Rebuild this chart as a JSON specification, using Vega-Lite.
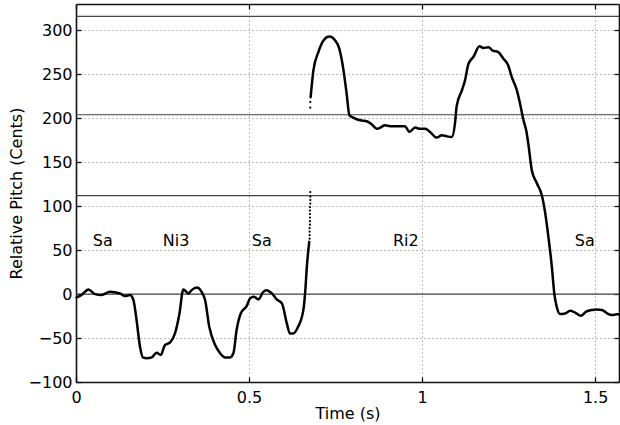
{
  "$schema": "https://vega.github.io/schema/vega-lite/v6.json",
  "width": 543,
  "height": 378,
  "autosize": {"type": "none"},
  "padding": {"left": 76, "top": 4, "right": 1, "bottom": 43},
  "background": "white",
  "config": {
    "view": {"stroke": null},
    "axis": {
      "domain": true,
      "ticks": true,
      "labelFlush": false,
      "labelFont": "DejaVu Sans",
      "titleFont": "DejaVu Sans",
      "labelFontSize": 16,
      "titleFontSize": 16,
      "titleFontWeight": "normal",
      "labelColor": "#000",
      "titleColor": "#000",
      "domainColor": "#111111",
      "domainWidth": 1.6,
      "domainOpacity": 1,
      "tickColor": "#111111",
      "tickWidth": 1.3,
      "tickOpacity": 1,
      "tickSize": -5,
      "gridColor": "#777",
      "gridDash": [1, 3],
      "gridOpacity": 1,
      "gridWidth": 1,
      "zindex": 1
    }
  },
  "datasets": {
    "pitch": [
      {"t": 0.002, "c": -3.8, "s": 1},
      {"t": 0.016, "c": -1, "s": 1},
      {"t": 0.036, "c": 5.3, "s": 1},
      {"t": 0.055, "c": 0, "s": 1},
      {"t": 0.074, "c": -1, "s": 1},
      {"t": 0.098, "c": 2.7, "s": 1},
      {"t": 0.127, "c": 0.7, "s": 1},
      {"t": 0.142, "c": -2.3, "s": 1},
      {"t": 0.156, "c": -1, "s": 1},
      {"t": 0.166, "c": -6.8, "s": 1},
      {"t": 0.175, "c": -29.5, "s": 1},
      {"t": 0.185, "c": -60, "s": 1},
      {"t": 0.193, "c": -72, "s": 1},
      {"t": 0.204, "c": -73, "s": 1},
      {"t": 0.219, "c": -72, "s": 1},
      {"t": 0.233, "c": -66.6, "s": 1},
      {"t": 0.245, "c": -69.3, "s": 1},
      {"t": 0.257, "c": -58, "s": 1},
      {"t": 0.272, "c": -55, "s": 1},
      {"t": 0.286, "c": -44.7, "s": 1},
      {"t": 0.299, "c": -22, "s": 1},
      {"t": 0.31, "c": 5.3, "s": 1},
      {"t": 0.325, "c": 0.8, "s": 1},
      {"t": 0.334, "c": 4.5, "s": 1},
      {"t": 0.349, "c": 7.6, "s": 1},
      {"t": 0.363, "c": 2.6, "s": 1},
      {"t": 0.373, "c": -6.8, "s": 1},
      {"t": 0.385, "c": -37, "s": 1},
      {"t": 0.402, "c": -58, "s": 1},
      {"t": 0.416, "c": -67, "s": 1},
      {"t": 0.431, "c": -72, "s": 1},
      {"t": 0.445, "c": -72, "s": 1},
      {"t": 0.455, "c": -67, "s": 1},
      {"t": 0.464, "c": -41, "s": 1},
      {"t": 0.476, "c": -22, "s": 1},
      {"t": 0.493, "c": -13.6, "s": 1},
      {"t": 0.503, "c": -4.9, "s": 1},
      {"t": 0.514, "c": -3, "s": 1},
      {"t": 0.527, "c": -6, "s": 1},
      {"t": 0.541, "c": 2.6, "s": 1},
      {"t": 0.551, "c": 4.5, "s": 1},
      {"t": 0.566, "c": 0.8, "s": 1},
      {"t": 0.58, "c": -6, "s": 1},
      {"t": 0.595, "c": -10.6, "s": 1},
      {"t": 0.609, "c": -33, "s": 1},
      {"t": 0.618, "c": -44.7, "s": 1},
      {"t": 0.628, "c": -44.7, "s": 1},
      {"t": 0.642, "c": -37, "s": 1},
      {"t": 0.657, "c": -18, "s": 1},
      {"t": 0.662, "c": 0.8, "s": 1},
      {"t": 0.667, "c": 31, "s": 1},
      {"t": 0.674, "c": 59.4, "s": 1},
      {"t": 0.678, "c": 224, "s": 2},
      {"t": 0.686, "c": 254.5, "s": 2},
      {"t": 0.7, "c": 275, "s": 2},
      {"t": 0.715, "c": 288.6, "s": 2},
      {"t": 0.732, "c": 293, "s": 2},
      {"t": 0.749, "c": 288.6, "s": 2},
      {"t": 0.761, "c": 279, "s": 2},
      {"t": 0.773, "c": 254.5, "s": 2},
      {"t": 0.782, "c": 228, "s": 2},
      {"t": 0.79, "c": 203.4, "s": 2},
      {"t": 0.801, "c": 200.8, "s": 2},
      {"t": 0.821, "c": 197.7, "s": 2},
      {"t": 0.84, "c": 196.6, "s": 2},
      {"t": 0.855, "c": 193, "s": 2},
      {"t": 0.869, "c": 188, "s": 2},
      {"t": 0.879, "c": 189.4, "s": 2},
      {"t": 0.893, "c": 192, "s": 2},
      {"t": 0.908, "c": 191, "s": 2},
      {"t": 0.927, "c": 191, "s": 2},
      {"t": 0.951, "c": 191, "s": 2},
      {"t": 0.963, "c": 184.5, "s": 2},
      {"t": 0.98, "c": 189.4, "s": 2},
      {"t": 0.994, "c": 188, "s": 2},
      {"t": 1.009, "c": 188, "s": 2},
      {"t": 1.023, "c": 184.5, "s": 2},
      {"t": 1.042, "c": 178, "s": 2},
      {"t": 1.057, "c": 180.7, "s": 2},
      {"t": 1.071, "c": 179.5, "s": 2},
      {"t": 1.086, "c": 178.8, "s": 2},
      {"t": 1.095, "c": 194, "s": 2},
      {"t": 1.1, "c": 213.8, "s": 2},
      {"t": 1.115, "c": 231.8, "s": 2},
      {"t": 1.124, "c": 243, "s": 2},
      {"t": 1.134, "c": 262, "s": 2},
      {"t": 1.148, "c": 269.7, "s": 2},
      {"t": 1.166, "c": 281.8, "s": 2},
      {"t": 1.177, "c": 280, "s": 2},
      {"t": 1.192, "c": 280.8, "s": 2},
      {"t": 1.204, "c": 277, "s": 2},
      {"t": 1.22, "c": 275.3, "s": 2},
      {"t": 1.235, "c": 267.8, "s": 2},
      {"t": 1.249, "c": 260, "s": 2},
      {"t": 1.259, "c": 247, "s": 2},
      {"t": 1.274, "c": 231.8, "s": 2},
      {"t": 1.283, "c": 216.7, "s": 2},
      {"t": 1.293, "c": 197.7, "s": 2},
      {"t": 1.301, "c": 186, "s": 2},
      {"t": 1.307, "c": 171, "s": 2},
      {"t": 1.317, "c": 141, "s": 2},
      {"t": 1.332, "c": 125.8, "s": 2},
      {"t": 1.346, "c": 112.5, "s": 2},
      {"t": 1.356, "c": 91.7, "s": 2},
      {"t": 1.365, "c": 65, "s": 2},
      {"t": 1.375, "c": 31, "s": 2},
      {"t": 1.382, "c": 0.8, "s": 2},
      {"t": 1.389, "c": -14.4, "s": 2},
      {"t": 1.399, "c": -22.7, "s": 2},
      {"t": 1.413, "c": -22, "s": 2},
      {"t": 1.428, "c": -19, "s": 2},
      {"t": 1.442, "c": -21, "s": 2},
      {"t": 1.459, "c": -24.6, "s": 2},
      {"t": 1.474, "c": -20, "s": 2},
      {"t": 1.49, "c": -18, "s": 2},
      {"t": 1.505, "c": -17.4, "s": 2},
      {"t": 1.52, "c": -18, "s": 2},
      {"t": 1.535, "c": -22, "s": 2},
      {"t": 1.549, "c": -23.9, "s": 2},
      {"t": 1.563, "c": -23, "s": 2},
      {"t": 1.569, "c": -23, "s": 2}
    ],
    "dots": [
      {"t": 0.675, "c": 63},
      {"t": 0.675, "c": 67},
      {"t": 0.675, "c": 71},
      {"t": 0.675, "c": 75},
      {"t": 0.676, "c": 79},
      {"t": 0.676, "c": 83},
      {"t": 0.676, "c": 87},
      {"t": 0.676, "c": 91},
      {"t": 0.676, "c": 95},
      {"t": 0.676, "c": 99},
      {"t": 0.677, "c": 103},
      {"t": 0.677, "c": 107},
      {"t": 0.677, "c": 111},
      {"t": 0.677, "c": 116},
      {"t": 0.677, "c": 212},
      {"t": 0.677, "c": 218.5}
    ],
    "refs": [
      {"c": 0},
      {"c": 112},
      {"c": 204},
      {"c": 316}
    ],
    "labels": [
      {"t": 0.0775, "c": 54.5, "name": "Sa"},
      {"t": 0.289, "c": 54.5, "name": "Ni3"},
      {"t": 0.537, "c": 54.5, "name": "Sa"},
      {"t": 0.953, "c": 54.5, "name": "Ri2"},
      {"t": 1.47, "c": 54.5, "name": "Sa"}
    ]
  },
  "layer": [
    {
      "data": {"name": "refs"},
      "mark": {"type": "rule", "color": "#444", "strokeWidth": 1.2},
      "encoding": {
        "y": {"field": "c", "type": "quantitative", "scale": {"domain": [-100, 330], "nice": false, "zero": false}, "axis": null}
      }
    },
    {
      "data": {"name": "pitch"},
      "mark": {"type": "line", "color": "#000", "strokeWidth": 2.5, "strokeJoin": "round", "strokeCap": "round", "interpolate": "monotone"},
      "encoding": {
        "x": {
          "field": "t", "type": "quantitative",
          "scale": {"domain": [0, 1.569], "nice": false, "zero": false},
          "axis": {
            "orient": "bottom", "values": [0, 0.5, 1, 1.5], "format": "~g", "grid": true,
            "labelPadding": 12, "title": "Time (s)", "titleY": 36, "titleBaseline": "alphabetic"
          }
        },
        "y": {
          "field": "c", "type": "quantitative",
          "scale": {"domain": [-100, 330], "nice": false, "zero": false},
          "axis": {
            "orient": "left", "values": [-100, -50, 0, 50, 100, 150, 200, 250, 300], "grid": true,
            "labelPadding": 9, "title": "Relative Pitch (Cents)", "titleX": -55, "titleY": 189,
            "titleBaseline": "alphabetic", "titleAngle": -90
          }
        },
        "detail": {"field": "s", "type": "nominal"}
      }
    },
    {
      "data": {"name": "dots"},
      "mark": {"type": "circle", "color": "#000", "size": 5, "opacity": 1},
      "encoding": {
        "x": {"field": "t", "type": "quantitative", "axis": null},
        "y": {"field": "c", "type": "quantitative", "axis": null}
      }
    },
    {
      "data": {"name": "labels"},
      "mark": {"type": "text", "font": "DejaVu Sans", "fontSize": 16, "baseline": "alphabetic", "align": "center", "color": "#000"},
      "encoding": {
        "x": {
          "field": "t", "type": "quantitative",
          "axis": {"orient": "top", "values": [0, 0.5, 1, 1.5], "labels": false, "title": null, "grid": false}
        },
        "y": {
          "field": "c", "type": "quantitative",
          "axis": {"orient": "right", "values": [-100, -50, 0, 50, 100, 150, 200, 250, 300], "labels": false, "title": null, "grid": false}
        },
        "text": {"field": "name", "type": "nominal"}
      }
    }
  ],
  "resolve": {"axis": {"x": "independent", "y": "independent"}}
}
